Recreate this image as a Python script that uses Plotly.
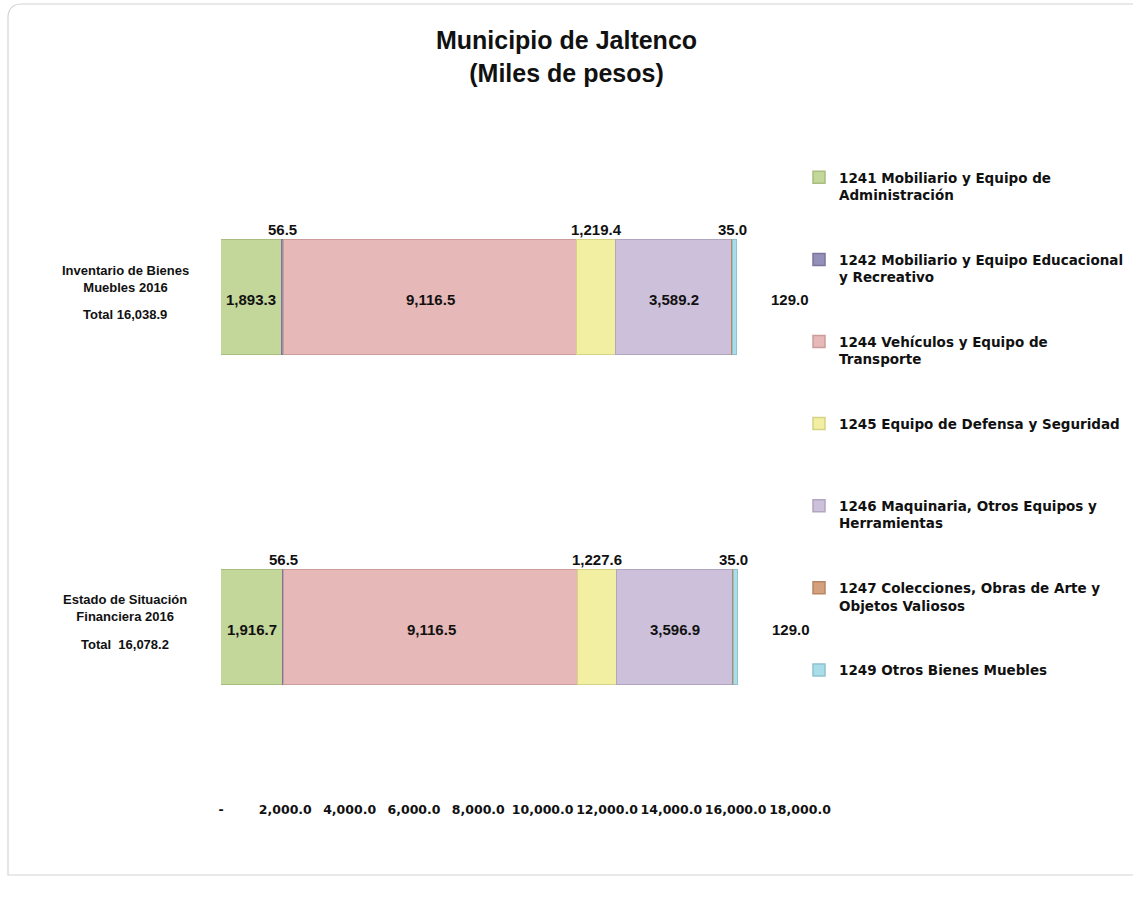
import plotly.graph_objects as go

# ---------------- data ----------------
categories = ["Inventario de Bienes Muebles 2016", "Estado de Situación Financiera 2016"]
cat_labels = ["Inventario de Bienes<br>Muebles 2016", "Estado de Situación<br>Financiera 2016"]
cat_totals = ["Total 16,038.9", "Total  16,078.2"]

series_names = [
    "1241 Mobiliario y Equipo de<br>Administración",
    "1242 Mobiliario y Equipo Educacional<br>y Recreativo",
    "1244 Vehículos y Equipo de<br>Transporte",
    "1245 Equipo de Defensa y Seguridad<br> ",
    "1246 Maquinaria, Otros Equipos y<br>Herramientas",
    "1247 Colecciones, Obras de Arte y<br>Objetos Valiosos",
    "1249 Otros Bienes Muebles<br> ",
]
s1241 = [1893.3, 1916.7]
s1242 = [56.5, 56.5]
s1244 = [9116.5, 9116.5]
s1245 = [1219.4, 1227.6]
s1246 = [3589.2, 3596.9]
s1247 = [35.0, 35.0]
s1249 = [129.0, 129.0]
series_values = [s1241, s1242, s1244, s1245, s1246, s1247, s1249]

# label placement per series: inside / above / right
label_pos = ["inside", "above", "inside", "above", "inside", "above", "right"]

tick_vals = [0, 2000, 4000, 6000, 8000, 10000, 12000, 14000, 16000, 18000]
tick_text = ["-", "2,000.0", "4,000.0", "6,000.0", "8,000.0", "10,000.0",
             "12,000.0", "14,000.0", "16,000.0", "18,000.0"]

# ---------------- styles ----------------
colors = ["#c4d79b", "#9590b8", "#e6b8b7", "#f2eea2", "#ccc0da", "#d4a07e", "#a9dde9"]
edge = ["#a9bd7f", "#7b769e", "#cc9c9b", "#d6d286", "#b1a5c0", "#b98664", "#8dc2ce"]
FONT = "Liberation Sans, Arial, sans-serif"
WIDE = "DejaVu Sans, Liberation Sans, sans-serif"

W, H = 1133, 905
ML, MR, MT, MB = 221, 10, 133, 113
PW = W - ML - MR
PH = H - MT - MB
x_dom_end = (800 - ML) / PW


def px(p):
    return (p - ML) / PW


def py(q):
    return (H - MB - q) / PH


fig = go.Figure()
for name, vals, c, e in zip(series_names, series_values, colors, edge):
    fig.add_trace(go.Bar(
        y=categories, x=vals, name=name, orientation="h",
        marker=dict(color=c, line=dict(color=e, width=1.5)),
        width=0.35, legendgroup=name, hoverinfo="x+name",
    ))

annotations = []
bar_half_px = 0.35 * (PH / 2) / 2
lab_font = dict(family=FONT, size=15, color="#111", weight="bold")
for ci, cat in enumerate(categories):
    cum = 0.0
    for si, vals in enumerate(series_values):
        v = vals[ci]
        mid = cum + v / 2
        txt = f"{v:,.1f}"
        pos = label_pos[si]
        if pos == "inside":
            annotations.append(dict(x=mid, y=cat, xref="x", yref="y", text=txt,
                                    showarrow=False, yshift=-2, font=lab_font))
        elif pos == "above":
            annotations.append(dict(x=mid, y=cat, xref="x", yref="y", text=txt,
                                    showarrow=False, yanchor="bottom", yshift=bar_half_px,
                                    font=lab_font))
        else:
            annotations.append(dict(x=cum + v, y=cat, xref="x", yref="y", text=txt,
                                    showarrow=False, xanchor="left", xshift=32, yshift=-2,
                                    font=lab_font))
        cum += v
    # category labels
    annotations.append(dict(x=px(125), y=cat, xref="paper", yref="y", text=cat_labels[ci],
                            showarrow=False, xanchor="center", yanchor="middle", yshift=19,
                            align="center",
                            font=dict(family=FONT, size=13, color="#111", weight="bold")))
    annotations.append(dict(x=px(125), y=cat, xref="paper", yref="y", text=cat_totals[ci],
                            showarrow=False, xanchor="center", yanchor="middle", yshift=-17,
                            font=dict(family=FONT, size=13, color="#111", weight="bold")))

# outer rounded frame
x0, x1, y0, y1 = px(8), px(1145), py(875), py(4)
rx, ry = 14 / PW, 14 / PH
frame_path = (f"M {x0},{y0} L {x0},{y1 - ry} Q {x0},{y1} {x0 + rx},{y1} "
              f"L {x1},{y1} L {x1},{y0} Z")

fig.update_layout(
    width=W, height=H,
    margin=dict(l=ML, r=MR, t=MT, b=MB, autoexpand=False),
    paper_bgcolor="white", plot_bgcolor="white",
    barmode="stack", bargap=0,
    showlegend=True,
    title=dict(text="Municipio de Jaltenco<br>(Miles de pesos)",
               x=0.5, xref="container", xanchor="center",
               y=1 - 49 / H, yref="container", yanchor="top",
               font=dict(family=FONT, size=25, color="#111", weight="bold")),
    xaxis=dict(domain=[0, x_dom_end], range=[0, 18000], tickvals=tick_vals, ticktext=tick_text,
               showgrid=False, zeroline=False, showline=False, ticks="",
               tickfont=dict(family=WIDE, size=12.5, color="#111", weight="bold"),
               ticklabelstandoff=8),
    yaxis=dict(categoryorder="array", categoryarray=categories, range=[1.5, -0.5],
               showticklabels=False, showgrid=False, zeroline=False, showline=False, ticks=""),
    legend=dict(x=px(799), y=py(162), xanchor="left", yanchor="top",
                xref="paper", yref="paper",
                traceorder="grouped", tracegroupgap=44, itemwidth=30,
                font=dict(family=WIDE, size=13.5, color="#111", weight="bold"),
                valign="top", bgcolor="rgba(0,0,0,0)", itemclick=False),
    annotations=annotations,
    shapes=[dict(type="path", path=frame_path, xref="paper", yref="paper",
                 line=dict(color="#d4d4d4", width=1.2), fillcolor="rgba(0,0,0,0)", layer="below")],
)

fig.write_html("out.html", config={"displayModeBar": False},
               post_script="document.body.style.margin='0px';")
